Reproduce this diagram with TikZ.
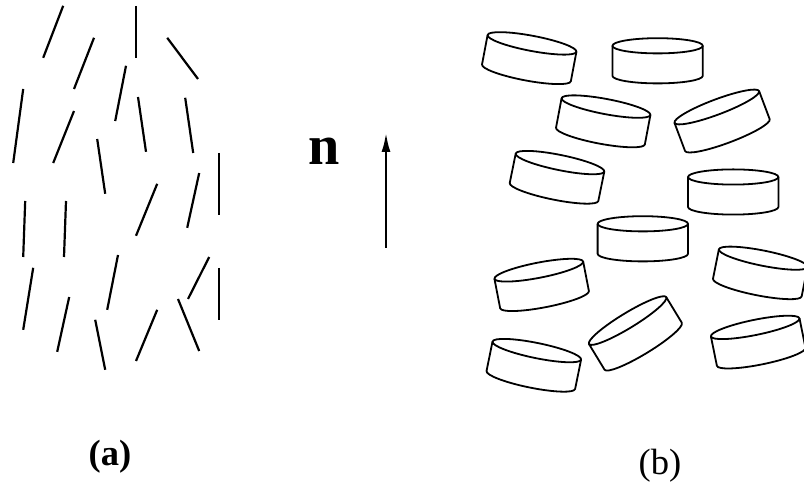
\documentclass[tikz,border=0pt]{standalone}
\usepackage{fontspec}
\setmainfont{Liberation Serif}
\usetikzlibrary{arrows.meta}

\tikzset{
  rod/.style={line width=0.055cm,black},
  rim/.style={line width=0.045cm,black,line join=round},
  director/.style={line width=0.07cm,black,-{Latex[length=0.5cm,width=0.22cm]}},
  caption/.style={font=\fontsize{26}{28}\selectfont,inner sep=0pt}
}

% one disc-like molecule: top face centre, tilt
\newcommand{\disk}[3]{%
  \begin{scope}[shift={(#1,#2)},rotate=#3]
    \draw[rim] (0,0) ellipse (1.13 and 0.19);
    \draw[rim] (-1.13,0) -- (-1.13,-0.75) arc (180:360:1.13 and 0.19) -- (1.13,0);
  \end{scope}}

\begin{document}
\begin{tikzpicture}
\useasboundingbox (0,0) rectangle (20.1,12.075);

% rods
\draw[rod] (1.58,11.93) -- (1.08,10.63);
\draw[rod] (3.40,11.93) -- (3.40,10.63);
\draw[rod] (4.18,11.13) -- (4.95,10.10);
\draw[rod] (2.35,11.13) -- (1.85,9.85);
\draw[rod] (0.58,9.85) -- (0.33,8.00);
\draw[rod] (3.15,10.43) -- (2.88,9.05);
\draw[rod] (1.85,9.30) -- (1.33,8.00);
\draw[rod] (3.45,9.65) -- (3.65,8.28);
\draw[rod] (4.63,9.63) -- (4.83,8.25);
\draw[rod] (2.43,8.60) -- (2.63,7.23);
\draw[rod] (5.48,8.25) -- (5.48,6.70);
\draw[rod] (3.93,7.48) -- (3.40,6.18);
\draw[rod] (4.98,7.75) -- (4.68,6.38);
\draw[rod] (0.63,7.05) -- (0.58,5.65);
\draw[rod] (1.65,7.05) -- (1.60,5.65);
\draw[rod] (0.83,5.38) -- (0.58,3.83);
\draw[rod] (1.73,4.65) -- (1.43,3.28);
\draw[rod] (2.95,5.70) -- (2.68,4.33);
\draw[rod] (5.23,5.65) -- (4.70,4.60);
\draw[rod] (5.48,5.38) -- (5.48,4.08);
\draw[rod] (2.38,4.08) -- (2.63,2.83);
\draw[rod] (3.93,4.33) -- (3.40,3.05);
\draw[rod] (4.45,4.60) -- (4.98,3.30);

% director
\node[font=\fontsize{40}{42}\selectfont\bfseries,inner sep=0pt] (nlabel) at (8.10,8.30) {n};
\coordinate (ntail) at (9.65,5.88);
\coordinate (nhead) at (9.65,8.78);
\draw[director] (ntail) -- (nhead);

% discs
\begin{scope}
\clip (0,0) rectangle (20.1,12.075);
\disk{13.30}{10.99}{-10.7}
\disk{16.44}{10.93}{0}
\disk{15.15}{9.41}{-10.7}
\disk{17.92}{9.40}{20.6}
\disk{14.00}{8.01}{-11.5}
\disk{18.33}{7.65}{0}
\disk{16.07}{6.48}{0}
\disk{13.47}{5.32}{11}
\disk{19.08}{5.62}{-11.3}
\disk{15.69}{4.06}{31.3}
\disk{13.42}{3.31}{-11.5}
\disk{18.88}{3.89}{11.5}
\end{scope}

% captions
\node[caption,font=\fontsize{26}{28}\selectfont\bfseries] (capa) at (2.75,0.65) {(a)};
\node[caption] (capb) at (16.50,0.43) {(b)};
\end{tikzpicture}
\end{document}
